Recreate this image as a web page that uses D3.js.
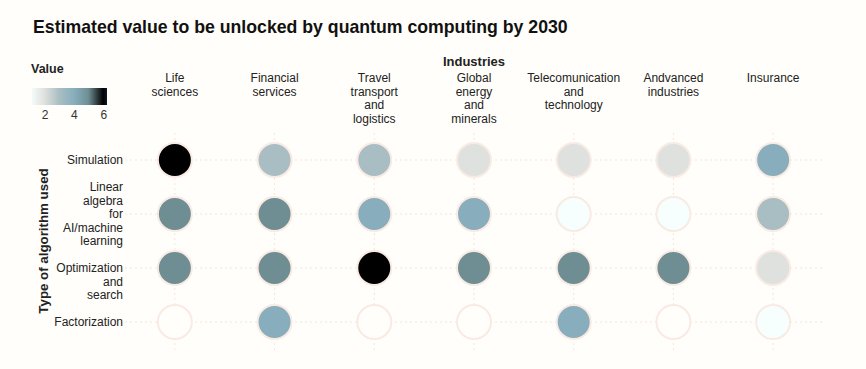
<html>
<head>
<style>
  body { margin: 0; background: #fffefa; }
  text { font-family: "Liberation Sans", Arial, sans-serif; fill: #222; }
  .grid { stroke: #f6e4dc; stroke-dasharray: 2,3; stroke-width: 1; }
</style>
</head>
<body>
<svg id="chart" width="866" height="369"></svg>
<script src="https://cdn.jsdelivr.net/npm/d3@7"></script>
<script>
// industries (columns) and algorithm types (rows)
const industries = [
  ["Life", "sciences"],
  ["Financial", "services"],
  ["Travel", "transport", "and", "logistics"],
  ["Global", "energy", "and", "minerals"],
  ["Telecomunication", "and", "technology"],
  ["Andvanced", "industries"],
  ["Insurance"]
]
const algorithms = [
  ["Simulation"],
  ["Linear", "algebra", "for", "AI/machine", "learning"],
  ["Optimization", "and", "search"],
  ["Factorization"]
]
// values per algorithm row, in industry order (null = no value)
const simulation    = [6, 3, 3, 2, 2, 2, 4]
const linearAlgebra = [5, 5, 4, 4, 1, 1, 3]
const optimization  = [5, 5, 6, 5, 5, 5, 2]
const factorization = [null, 4, null, null, 4, null, 1]
const legendTicks = [2, 4, 6]

const rows = [simulation, linearAlgebra, optimization, factorization]
let cells = []
rows.forEach((r, i) => r.forEach((v, j) => cells.push({ row: i, col: j, value: v })))

let svg = d3.select("#chart")

let x = d3.scaleBand().domain(d3.range(industries.length)).range([125, 823])
let y = d3.scaleBand().domain(d3.range(algorithms.length)).range([133, 349])

let color = d3.scaleLinear()
  .domain([1, 2, 3, 4, 5, 6])
  .range(["#f6fffd", "#dfe1de", "#a9bec2", "#88aebd", "#6e8e93", "#000000"])

// title
svg.append("text").attr("x", 33).attr("y", 33)
  .style("font-size", "17.7px").style("font-weight", "bold").style("fill", "#111")
  .text("Estimated value to be unlocked by quantum computing by 2030")

// grid lines
svg.append("g").selectAll("line").data(d3.range(algorithms.length)).enter()
  .append("line").attr("class", "grid")
  .attr("x1", 125).attr("x2", 823)
  .attr("y1", d => y(d) + y.bandwidth() / 2).attr("y2", d => y(d) + y.bandwidth() / 2)
svg.append("g").selectAll("line").data(d3.range(industries.length)).enter()
  .append("line").attr("class", "grid")
  .attr("y1", 133).attr("y2", 352)
  .attr("x1", d => x(d) + x.bandwidth() / 2).attr("x2", d => x(d) + x.bandwidth() / 2)

// column labels
svg.append("text").attr("x", 474).attr("y", 66).attr("text-anchor", "middle")
  .style("font-size", "13px").style("font-weight", "bold").text("Industries")
let colLab = svg.append("g").selectAll("text").data(industries).enter()
  .append("text").attr("text-anchor", "middle").style("font-size", "12px")
  .attr("y", 82)
colLab.selectAll("tspan").data((d, i) => d.map(s => ({ s, i }))).enter()
  .append("tspan").attr("x", d => x(d.i) + x.bandwidth() / 2)
  .attr("dy", (d, k) => k == 0 ? 0 : 13.5).text(d => d.s)

// row labels (linear algebra label is centred on its row, the others start on it)
let rowLab = svg.append("g").selectAll("text").data(algorithms).enter()
  .append("text").attr("text-anchor", "end").style("font-size", "12px")
  .attr("y", (d, i) => y(i) + y.bandwidth() / 2 + 4 - (i == 1 ? (d.length - 1) * 13.5 / 2 : 0))
rowLab.selectAll("tspan").data(d => d).enter()
  .append("tspan").attr("x", 123).attr("dy", (d, k) => k == 0 ? 0 : 13.5).text(d => d)

svg.append("text").attr("transform", "translate(48,241) rotate(-90)")
  .attr("text-anchor", "middle").style("font-size", "13.3px").style("font-weight", "bold")
  .text("Type of algorithm used")

// circles
svg.append("g").selectAll("circle").data(cells).enter()
  .append("circle")
  .attr("cx", d => x(d.col) + x.bandwidth() / 2)
  .attr("cy", d => y(d.row) + y.bandwidth() / 2)
  .attr("r", 17)
  .attr("fill", d => d.value == null ? "#fffefa" : color(d.value))
  .attr("stroke", "#f9ebe3").attr("stroke-width", 2)

// legend
svg.append("text").attr("x", 31).attr("y", 73)
  .style("font-size", "12.5px").style("font-weight", "bold").text("Value")
let grad = svg.append("defs").append("linearGradient").attr("id", "grad")
let lx = d3.scaleLinear().domain([1.15, 6.25]).range([32, 107])
d3.range(0, 1.001, 0.05).forEach(t => {
  let v = 1.15 + t * (6.25 - 1.15)
  grad.append("stop").attr("offset", t).attr("stop-color", v >= 6 ? "#0a1a2a" : color(v))
})
svg.append("rect").attr("x", 32).attr("y", 88).attr("width", 75).attr("height", 17)
  .attr("fill", "url(#grad)")
let lAxis = svg.append("g").attr("transform", "translate(0,105)")
  .call(d3.axisBottom(lx).tickValues(legendTicks).tickFormat(d3.format("d")).tickSize(0).tickPadding(5))
lAxis.select(".domain").remove()
lAxis.selectAll("text").style("font-size", "12px").style("fill", "#333")
  .style("font-family", "Liberation Sans, Arial, sans-serif")
</script>
</body>
</html>
